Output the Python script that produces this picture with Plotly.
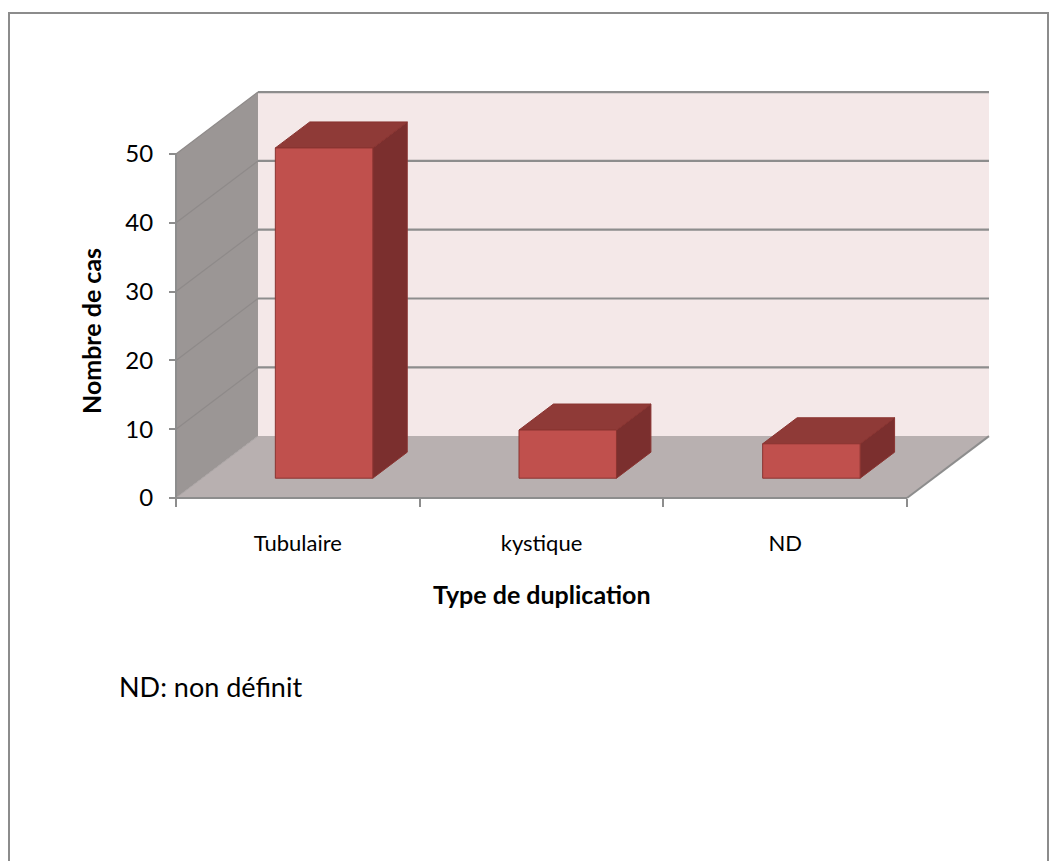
import plotly.graph_objects as go

# ---- data ----
categories = ["Tubulaire", "kystique", "ND"]
cases = [48, 7, 5]
y_ticks = [0, 10, 20, 30, 40, 50]
x_title = "Type de duplication"
y_title = "Nombre de cas"
footnote = "ND: non définit"

# ---- 3D oblique projection (category units, value units, depth 0..1) ----
N = len(categories)
ZMAX = max(y_ticks)
KX = 0.3365          # horizontal shift per unit of depth (category units)
KY = 9.0             # vertical shift per unit of depth (value units)
BAR_W = 0.4
D_FRONT, D_BACK = 0.32, 0.74


def proj(x, z, d):
    return x + d * KX, z + d * KY


def poly(pts, close=True):
    xy = [proj(*p) for p in pts]
    if close:
        xy.append(xy[0])
    return [p[0] for p in xy], [p[1] for p in xy]


FONT = "Lato, 'Liberation Sans', Arial, sans-serif"
C_BACK = "#F4E8E8"
C_LEFT = "#9B9695"
C_FLOOR = "#B8B0B0"
C_GRID = "#8D8D8D"
C_FRONT = "#C0504D"
C_TOP = "#8F3A37"
C_SIDE = "#7B2F2E"
C_EDGE = "#8A3431"

fig = go.Figure()


def add_poly(pts, fill, line_color=None, width=0):
    xs, ys = poly(pts)
    fig.add_trace(go.Scatter(
        x=xs, y=ys, mode="lines", fill="toself", fillcolor=fill,
        line=dict(color=line_color or fill, width=width),
        hoverinfo="skip", showlegend=False))


def add_line(p0, p1, color=C_GRID, width=2):
    xs, ys = poly([p0, p1], close=False)
    fig.add_trace(go.Scatter(
        x=xs, y=ys, mode="lines", line=dict(color=color, width=width),
        hoverinfo="skip", showlegend=False))


# walls and floor
add_poly([(0, 0, 1), (N, 0, 1), (N, ZMAX, 1), (0, ZMAX, 1)], C_BACK)
add_poly([(0, 0, 0), (0, ZMAX, 0), (0, ZMAX, 1), (0, 0, 1)], C_LEFT)
add_poly([(0, 0, 0), (N, 0, 0), (N, 0, 1), (0, 0, 1)], C_FLOOR)

# gridlines on the back and side walls
for v in y_ticks[1:]:
    add_line((0, v, 1), (N, v, 1), C_GRID, 2.2)
    add_line((0, v, 0), (0, v, 1), "#8E8A89", 1.2)
add_line((0, 0, 0), (0, 0, 1), "#A9A3A3", 1)

# outer edges of the frame
add_line((0, 0, 0), (0, ZMAX, 0), C_GRID, 2)
add_line((0, 0, 0), (N, 0, 0), C_GRID, 2.2)
add_line((N, 0, 0), (N, 0, 1), C_GRID, 2)

# bars: right side, top, front
for i, v in enumerate(cases):
    x0 = i + 0.5 - BAR_W / 2
    x1 = i + 0.5 + BAR_W / 2
    add_poly([(x1, 0, D_FRONT), (x1, v, D_FRONT), (x1, v, D_BACK), (x1, 0, D_BACK)],
             C_SIDE, C_EDGE, 1)
    add_poly([(x0, v, D_FRONT), (x1, v, D_FRONT), (x1, v, D_BACK), (x0, v, D_BACK)],
             C_TOP, C_EDGE, 1)
    add_poly([(x0, 0, D_FRONT), (x1, 0, D_FRONT), (x1, v, D_FRONT), (x0, v, D_FRONT)],
             C_FRONT, C_EDGE, 1)

# ---- page geometry (pixels) ----
W, H = 1057, 861
OX, OY = 176, 498                       # front-left corner of the floor
SX = 731 / N                            # pixels per category
SY = 344 / ZMAX                         # pixels per value unit
PL, PR, PT, PB = 170, 995, 86, 504      # plot area with a little padding

xr = [(PL - OX) / SX, (PR - OX) / SX]
yr = [(OY - PB) / SY, (OY - PT) / SY]


def px(xp):
    return (xp - PL) / (PR - PL)


def py(yp):
    return (PB - yp) / (PB - PT)


fig.update_layout(
    width=W, height=H,
    margin=dict(l=PL, r=W - PR, t=PT, b=H - PB, autoexpand=False),
    paper_bgcolor="white", plot_bgcolor="rgba(0,0,0,0)",
    font=dict(family=FONT, color="black"),
    xaxis=dict(
        range=xr, anchor="free", position=py(OY),
        tickvals=[i + 0.5 for i in range(N)], ticktext=categories,
        ticks="", showgrid=False, zeroline=False, showline=False,
        tickfont=dict(size=22), ticklabelstandoff=30,
        minor=dict(tickvals=list(range(N + 1)), ticks="outside", ticklen=8,
                   tickwidth=2, tickcolor=C_GRID, showgrid=False),
        fixedrange=True,
    ),
    yaxis=dict(
        range=yr, anchor="free", position=px(OX),
        tickvals=y_ticks, ticks="outside", ticklen=7, tickwidth=2,
        tickcolor=C_GRID, showgrid=False, zeroline=False, showline=False,
        tickfont=dict(size=24), ticklabelstandoff=11,
        fixedrange=True,
    ),
    shapes=[dict(type="rect", xref="paper", yref="paper",
                 x0=px(9), x1=px(1048), y0=py(880), y1=py(13),
                 line=dict(color="#8C8C8C", width=2), fillcolor="rgba(0,0,0,0)")],
    annotations=[
        dict(text=f"<b>{x_title}</b>", xref="paper", yref="paper",
             x=px(541), y=py(594), showarrow=False, font=dict(size=25),
             xanchor="center", yanchor="middle"),
        dict(text=f"<b>{y_title}</b>", xref="paper", yref="paper",
             x=px(91), y=py(331), showarrow=False, font=dict(size=25),
             textangle=-90, xanchor="center", yanchor="middle"),
        dict(text=footnote, xref="paper", yref="paper",
             x=px(117), y=py(686), showarrow=False, font=dict(size=27),
             xanchor="left", yanchor="middle"),
    ],
)

fig.write_html("out.html")
